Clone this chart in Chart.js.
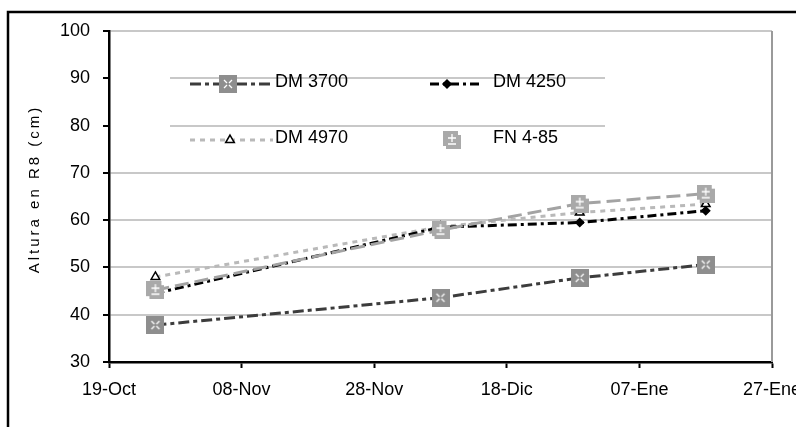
<!DOCTYPE html>
<html>
<head>
<meta charset="utf-8">
<script src="https://cdn.jsdelivr.net/npm/chart.js@4"></script>
<style>
  html, body { margin: 0; padding: 0; background: #fff; }
  #wrap { width: 796px; height: 427px; }
</style>
</head>
<body>
<div id="wrap"><canvas id="grafico" width="796" height="427"></canvas></div>
<script>
// ─── Datos (días desde el 19-Oct) ─────────────────────────────────────────────
const fechas      = [7, 50, 71, 90];          // 26-Oct, 08-Dic, 29-Dic, 17-Ene
const tickLabels  = ['19-Oct', '08-Nov', '28-Nov', '18-Dic', '07-Ene', '27-Ene'];
const series      = ['DM 3700', 'DM 4250', 'DM 4970', 'FN 4-85'];
const dm3700      = [37.8, 43.6, 47.8, 50.6];
const dm4250      = [44.5, 58.5, 59.5, 62.0];
const dm4970      = [48.0, 58.6, 61.6, 63.4];
const fn485       = [45.2, 57.9, 63.5, 65.6];

const FUENTE = "'Liberation Sans', Arial, sans-serif";

// ─── Marcadores dibujados a mano ──────────────────────────────────────────────
function cuadrado(color, tipo) {
  const c = document.createElement('canvas');
  c.width = 18; c.height = 18;
  const g = c.getContext('2d');
  g.fillStyle = color;
  g.fillRect(0, 0, 18, 18);
  g.strokeStyle = '#fff';
  g.lineWidth = 1.3;
  g.beginPath();
  if (tipo === 'x') {
    g.moveTo(5, 5); g.lineTo(8, 8);
    g.moveTo(13, 5); g.lineTo(10, 8);
    g.moveTo(5, 13); g.lineTo(8, 10);
    g.moveTo(13, 13); g.lineTo(10, 10);
  } else {
    g.moveTo(9, 3); g.lineTo(9, 11);
    g.moveTo(5, 7); g.lineTo(13, 7);
    g.moveTo(5, 13); g.lineTo(13, 13);
    g.stroke();
    g.clearRect(15, 0, 3, 4);
    g.clearRect(0, 15, 3, 3);
    return c;
  }
  g.stroke();
  return c;
}
const marcaDM3700 = cuadrado('#8e8e8e', 'x');
const marcaFN     = cuadrado('#a9a9a9', 'mas');

const estilos = [
  { color: '#3c3c3c', dash: [11, 4, 4, 4], punto: marcaDM3700, radio: 9, fondo: '#8e8e8e', borde: '#8e8e8e', orden: 1 },
  { color: '#000000', dash: [9, 4, 3, 4],  punto: 'rectRot',   radio: 4, fondo: '#000',    borde: '#000',    orden: 2 },
  { color: '#b9b9b9', dash: [5, 5],        punto: 'triangle',  radio: 5, fondo: '#fff',    borde: '#000',    orden: 3 },
  { color: '#a3a3a3', dash: [14, 6],       punto: marcaFN,     radio: 9, fondo: '#a9a9a9', borde: '#a9a9a9', orden: 0 }
];
const valores = [dm3700, dm4250, dm4970, fn485];

const datasets = series.map((nombre, i) => ({
  label: nombre,
  data: fechas.map((d, j) => ({ x: d, y: valores[i][j] })),
  borderColor: estilos[i].color,
  borderWidth: 3,
  borderDash: estilos[i].dash,
  pointStyle: estilos[i].punto,
  pointRadius: estilos[i].radio,
  pointBackgroundColor: estilos[i].fondo,
  pointBorderColor: estilos[i].borde,
  pointBorderWidth: 1.5,
  tension: 0,
  fill: false,
  order: estilos[i].orden
}));

// ─── Plugin: marco exterior, borde derecho, líneas parciales y leyenda ────────
const decoracion = {
  id: 'decoracion',
  beforeDraw(chart) {
    const ctx = chart.ctx;
    ctx.save();
    ctx.strokeStyle = '#000';
    ctx.lineWidth = 2.5;
    ctx.beginPath();
    ctx.moveTo(8, 427); ctx.lineTo(8, 12); ctx.lineTo(796, 12);
    ctx.stroke();
    ctx.restore();
  },
  beforeDatasetsDraw(chart) {
    const { ctx, chartArea, scales } = chart;
    ctx.save();
    // borde derecho del área
    ctx.strokeStyle = '#9a9a9a';
    ctx.lineWidth = 2;
    ctx.beginPath();
    ctx.moveTo(chartArea.right, chartArea.top);
    ctx.lineTo(chartArea.right, chartArea.bottom);
    ctx.stroke();
    // líneas de 90 y 80 sólo bajo la leyenda
    ctx.strokeStyle = '#c8c8c8';
    ctx.lineWidth = 2;
    [90, 80].forEach(v => {
      const y = Math.round(scales.y.getPixelForValue(v));
      ctx.beginPath();
      ctx.moveTo(chartArea.left + 61, y);
      ctx.lineTo(chartArea.left + 496, y);
      ctx.stroke();
    });
    // título del eje Y
    ctx.fillStyle = '#000';
    ctx.font = '15px ' + FUENTE;
    ctx.letterSpacing = '3px';
    ctx.textAlign = 'center';
    ctx.textBaseline = 'middle';
    ctx.translate(35, 189);
    ctx.rotate(-Math.PI / 2);
    ctx.fillText('Altura en R8 (cm)', 0, 0);
    ctx.restore();
  },
  afterDraw(chart) {
    const { ctx, chartArea } = chart;
    const L = chartArea.left;
    const entradas = [
      { i: 0, x0: L + 81,  x1: L + 164, mx: L + 119, y: 84,  tx: L + 166 },
      { i: 1, x0: L + 321, x1: L + 374, mx: L + 338, y: 84,  tx: L + 384 },
      { i: 2, x0: L + 81,  x1: L + 164, mx: L + 121, y: 140, tx: L + 166 },
      { i: 3, x0: null,    x1: null,    mx: L + 343, y: 140, tx: L + 384 }
    ];
    ctx.save();
    entradas.forEach(e => {
      const est = estilos[e.i];
      if (e.x0 !== null) {
        ctx.strokeStyle = est.color;
        ctx.lineWidth = 3;
        ctx.setLineDash(est.dash);
        ctx.beginPath();
        ctx.moveTo(e.x0, e.y);
        ctx.lineTo(e.x1, e.y);
        ctx.stroke();
        ctx.setLineDash([]);
      }
      if (est.punto instanceof HTMLCanvasElement) {
        ctx.drawImage(est.punto, e.mx - 9, e.y - 9);
      } else {
        ctx.fillStyle = est.fondo;
        ctx.strokeStyle = est.borde;
        ctx.lineWidth = 1.5;
        Chart.helpers.drawPoint(ctx, {
          pointStyle: est.punto, radius: est.radio, borderWidth: 1.5
        }, e.mx, e.y);
      }
      ctx.fillStyle = '#000';
      ctx.font = '18px ' + FUENTE;
      ctx.textAlign = 'left';
      ctx.textBaseline = 'middle';
      ctx.fillText(series[e.i], e.tx, e.y - 2);
    });
    ctx.restore();
  }
};

// ─── Gráfico ───────────────────────────────────────────────────────────────────
const ctx = document.getElementById('grafico').getContext('2d');
new Chart(ctx, {
  type: 'line',
  data: { datasets },
  plugins: [decoracion],
  options: {
    responsive: false,
    animation: false,
    devicePixelRatio: 1,
    layout: { padding: { left: 0, top: 31, right: 24, bottom: 0 } },
    plugins: {
      legend: { display: false },
      tooltip: { enabled: false }
    },
    scales: {
      x: {
        type: 'linear',
        min: 0,
        max: 100,
        afterFit(scale) {
          scale.height = 65;
          scale.paddingLeft = 0;
          scale.paddingRight = 0;
        },
        afterBuildTicks(scale) {
          scale.ticks = tickLabels.map((t, i) => ({ value: i * 20 }));
        },
        ticks: {
          color: '#000',
          font: { family: FUENTE, size: 18 },
          padding: 11,
          maxRotation: 0,
          autoSkip: false,
          callback: (v, i) => tickLabels[i]
        },
        grid: { drawOnChartArea: false, drawTicks: true, tickLength: 6, tickColor: '#000', tickWidth: 2 },
        border: { color: '#000', width: 2.5 }
      },
      y: {
        min: 30,
        max: 100,
        afterFit(scale) {
          scale.width = 109;
          scale.paddingTop = 0;
          scale.paddingBottom = 0;
        },
        ticks: {
          stepSize: 10,
          color: '#000',
          font: { family: FUENTE, size: 18 },
          padding: 13
        },
        grid: {
          color: c => (c.tick && (c.tick.value === 90 || c.tick.value === 80)) ? 'rgba(0,0,0,0)' : '#c8c8c8',
          lineWidth: 2,
          drawTicks: true,
          tickLength: 6,
          tickColor: '#000',
          tickWidth: 2
        },
        border: { color: '#000', width: 2.5 }
      }
    }
  }
});
</script>
</body>
</html>
